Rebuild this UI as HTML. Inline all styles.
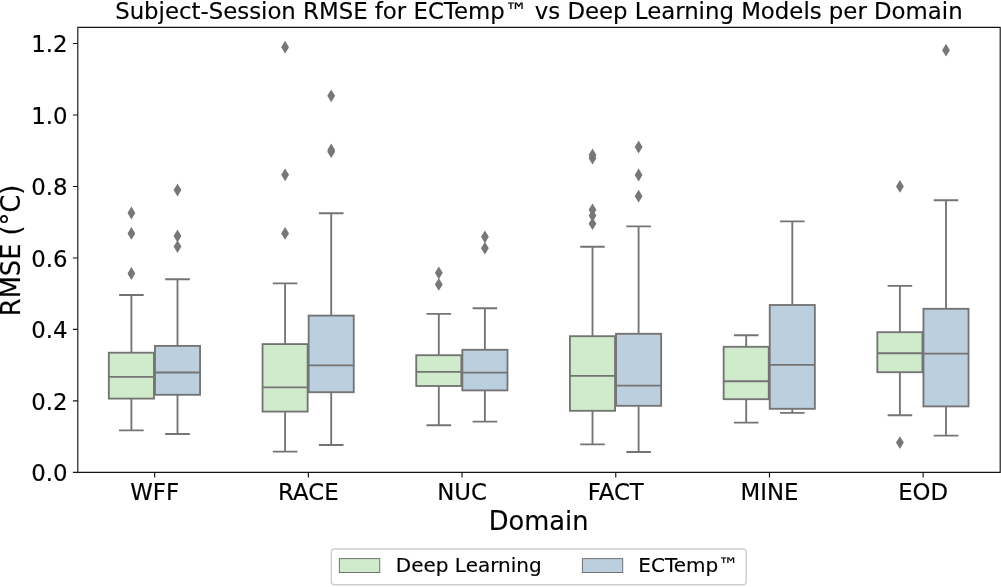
<!DOCTYPE html>
<html lang="en"><head><meta charset="utf-8"><title>Subject-Session RMSE for ECTemp™ vs Deep Learning Models per Domain</title>
<style>html,body{margin:0;padding:0;background:#fff;overflow:hidden}svg{display:block}text{font-family:'DejaVu Sans','Liberation Sans',sans-serif;fill:#000;stroke:#000;stroke-width:0.15px}</style>
</head><body>
<svg width="1001" height="587" viewBox="0 0 1001 587">
<rect x="0" y="0" width="1001" height="587" fill="#ffffff"/>
<g stroke="#747474" stroke-width="1.85" fill="none">
<rect x="108.85" y="352.7" width="45.1" height="45.9" fill="#d0ebcc"/>
<path d="M131.4 352.7V295M131.4 398.6V430.4M119.1 295H143.7M119.1 430.4H143.7M108.85 376.8H153.95"/>
</g>
<g fill="#777777">
<path d="M131.4 206.6L135.3 213L131.4 219.4L127.5 213Z"/>
<path d="M131.4 227L135.3 233.4L131.4 239.8L127.5 233.4Z"/>
<path d="M131.4 267.1L135.3 273.5L131.4 279.9L127.5 273.5Z"/>
</g>
<g stroke="#747474" stroke-width="1.85" fill="none">
<rect x="154.95" y="345.9" width="45.1" height="48.9" fill="#bbcfdf"/>
<path d="M177.5 345.9V279.2M177.5 394.8V434M165.2 279.2H189.8M165.2 434H189.8M154.95 372.5H200.05"/>
</g>
<g fill="#777777">
<path d="M177.5 183.6L181.4 190L177.5 196.4L173.6 190Z"/>
<path d="M177.5 229.6L181.4 236L177.5 242.4L173.6 236Z"/>
<path d="M177.5 240.2L181.4 246.6L177.5 253L173.6 246.6Z"/>
</g>
<g stroke="#747474" stroke-width="1.85" fill="none">
<rect x="262.55" y="344.1" width="45.1" height="67.5" fill="#d0ebcc"/>
<path d="M285.1 344.1V283.4M285.1 411.6V451.6M272.8 283.4H297.4M272.8 451.6H297.4M262.55 387.4H307.65"/>
</g>
<g fill="#777777">
<path d="M285.1 40.8L289 47.2L285.1 53.6L281.2 47.2Z"/>
<path d="M285.1 168.4L289 174.8L285.1 181.2L281.2 174.8Z"/>
<path d="M285.1 227L289 233.4L285.1 239.8L281.2 233.4Z"/>
</g>
<g stroke="#747474" stroke-width="1.85" fill="none">
<rect x="308.65" y="315.6" width="45.1" height="76.6" fill="#bbcfdf"/>
<path d="M331.2 315.6V213.2M331.2 392.2V445M318.9 213.2H343.5M318.9 445H343.5M308.65 365.4H353.75"/>
</g>
<g fill="#777777">
<path d="M331.2 89.4L335.1 95.8L331.2 102.2L327.3 95.8Z"/>
<path d="M331.2 143.5L335.1 149.9L331.2 156.3L327.3 149.9Z"/>
<path d="M331.2 145.3L335.1 151.7L331.2 158.1L327.3 151.7Z"/>
</g>
<g stroke="#747474" stroke-width="1.85" fill="none">
<rect x="416.25" y="355.2" width="45.1" height="30.8" fill="#d0ebcc"/>
<path d="M438.8 355.2V313.8M438.8 386V425.2M426.5 313.8H451.1M426.5 425.2H451.1M416.25 371.8H461.35"/>
</g>
<g fill="#777777">
<path d="M438.8 266.4L442.7 272.8L438.8 279.2L434.9 272.8Z"/>
<path d="M438.8 278L442.7 284.4L438.8 290.8L434.9 284.4Z"/>
</g>
<g stroke="#747474" stroke-width="1.85" fill="none">
<rect x="462.35" y="349.8" width="45.1" height="40.6" fill="#bbcfdf"/>
<path d="M484.9 349.8V308.2M484.9 390.4V421.6M472.6 308.2H497.2M472.6 421.6H497.2M462.35 372.6H507.45"/>
</g>
<g fill="#777777">
<path d="M484.9 230.4L488.8 236.8L484.9 243.2L481 236.8Z"/>
<path d="M484.9 241.8L488.8 248.2L484.9 254.6L481 248.2Z"/>
</g>
<g stroke="#747474" stroke-width="1.85" fill="none">
<rect x="569.95" y="336.2" width="45.1" height="74.6" fill="#d0ebcc"/>
<path d="M592.5 336.2V246.7M592.5 410.8V444.4M580.2 246.7H604.8M580.2 444.4H604.8M569.95 375.8H615.05"/>
</g>
<g fill="#777777">
<path d="M592.5 148.6L596.4 155L592.5 161.4L588.6 155Z"/>
<path d="M592.5 151.8L596.4 158.2L592.5 164.6L588.6 158.2Z"/>
<path d="M592.5 203.4L596.4 209.8L592.5 216.2L588.6 209.8Z"/>
<path d="M592.5 209.2L596.4 215.6L592.5 222L588.6 215.6Z"/>
<path d="M592.5 217.3L596.4 223.7L592.5 230.1L588.6 223.7Z"/>
</g>
<g stroke="#747474" stroke-width="1.85" fill="none">
<rect x="616.05" y="333.8" width="45.1" height="72" fill="#bbcfdf"/>
<path d="M638.6 333.8V226.4M638.6 405.8V452M626.3 226.4H650.9M626.3 452H650.9M616.05 385.6H661.15"/>
</g>
<g fill="#777777">
<path d="M638.6 140.6L642.5 147L638.6 153.4L634.7 147Z"/>
<path d="M638.6 168.6L642.5 175L638.6 181.4L634.7 175Z"/>
<path d="M638.6 189.8L642.5 196.2L638.6 202.6L634.7 196.2Z"/>
</g>
<g stroke="#747474" stroke-width="1.85" fill="none">
<rect x="723.65" y="346.8" width="45.1" height="52.4" fill="#d0ebcc"/>
<path d="M746.2 346.8V335.2M746.2 399.2V422.6M733.9 335.2H758.5M733.9 422.6H758.5M723.65 381.2H768.75"/>
</g>
<g stroke="#747474" stroke-width="1.85" fill="none">
<rect x="769.75" y="305" width="45.1" height="103.8" fill="#bbcfdf"/>
<path d="M792.3 305V221.4M792.3 408.8V412.8M780 221.4H804.6M780 412.8H804.6M769.75 364.8H814.85"/>
</g>
<g stroke="#747474" stroke-width="1.85" fill="none">
<rect x="877.35" y="332.2" width="45.1" height="40" fill="#d0ebcc"/>
<path d="M899.9 332.2V285.8M899.9 372.2V415.2M887.6 285.8H912.2M887.6 415.2H912.2M877.35 353.2H922.45"/>
</g>
<g fill="#777777">
<path d="M899.9 180L903.8 186.4L899.9 192.8L896 186.4Z"/>
<path d="M899.9 436.2L903.8 442.6L899.9 449L896 442.6Z"/>
</g>
<g stroke="#747474" stroke-width="1.85" fill="none">
<rect x="923.45" y="308.8" width="45.1" height="97.6" fill="#bbcfdf"/>
<path d="M946 308.8V200.2M946 406.4V435.6M933.7 200.2H958.3M933.7 435.6H958.3M923.45 353.6H968.55"/>
</g>
<g fill="#777777">
<path d="M946 43.8L949.9 50.2L946 56.6L942.1 50.2Z"/>
</g>
<g stroke="#141414" stroke-width="1.15" fill="none">
<path d="M154.65 472.4v5.1M308.35 472.4v5.1M462.05 472.4v5.1M615.75 472.4v5.1M769.45 472.4v5.1M923.15 472.4v5.1M77.8 472.4h-4.9M77.8 400.92h-4.9M77.8 329.44h-4.9M77.8 257.96h-4.9M77.8 186.48h-4.9M77.8 115h-4.9M77.8 43.52h-4.9"/>
<path d="M77.8 27.35V472.4H1000.2V27.35Z" stroke-linejoin="miter"/>
</g>
<g font-size="22.84" text-anchor="end">
<text x="67.5" y="481.3">0.0</text>
<text x="67.5" y="409.82">0.2</text>
<text x="67.5" y="338.34">0.4</text>
<text x="67.5" y="266.86">0.6</text>
<text x="67.5" y="195.38">0.8</text>
<text x="67.5" y="123.9">1.0</text>
<text x="67.5" y="52.42">1.2</text>
</g>
<g font-size="22.84" text-anchor="middle">
<text x="154.65" y="499.9">WFF</text>
<text x="308.35" y="499.9">RACE</text>
<text x="462.05" y="499.9">NUC</text>
<text x="615.75" y="499.9">FACT</text>
<text x="769.45" y="499.9">MINE</text>
<text x="923.15" y="499.9">EOD</text>
</g>
<text x="538.7" y="530.2" font-size="25.7" text-anchor="middle">Domain</text>
<text transform="translate(20.1 250.4) rotate(-90)" font-size="25.7" text-anchor="middle">RMSE (°C)</text>
<text x="538.9" y="19.2" font-size="22.84" text-anchor="middle">Subject-Session RMSE for ECTemp™ vs Deep Learning Models per Domain</text>
<rect x="331.3" y="549" width="414.9" height="35.7" rx="3.2" ry="3.2" fill="#fff" stroke="#cecece" stroke-width="1.4"/>
<rect x="339.4" y="558.6" width="40.3" height="13.9" fill="#d0ebcc" stroke="#727272" stroke-width="1"/>
<rect x="582.4" y="558.6" width="40.3" height="13.9" fill="#bbcfdf" stroke="#727272" stroke-width="1"/>
<g font-size="20"><text x="395.8" y="572.3">Deep Learning</text><text x="638.3" y="572.3">ECTemp™</text></g>
</svg>
</body></html>
